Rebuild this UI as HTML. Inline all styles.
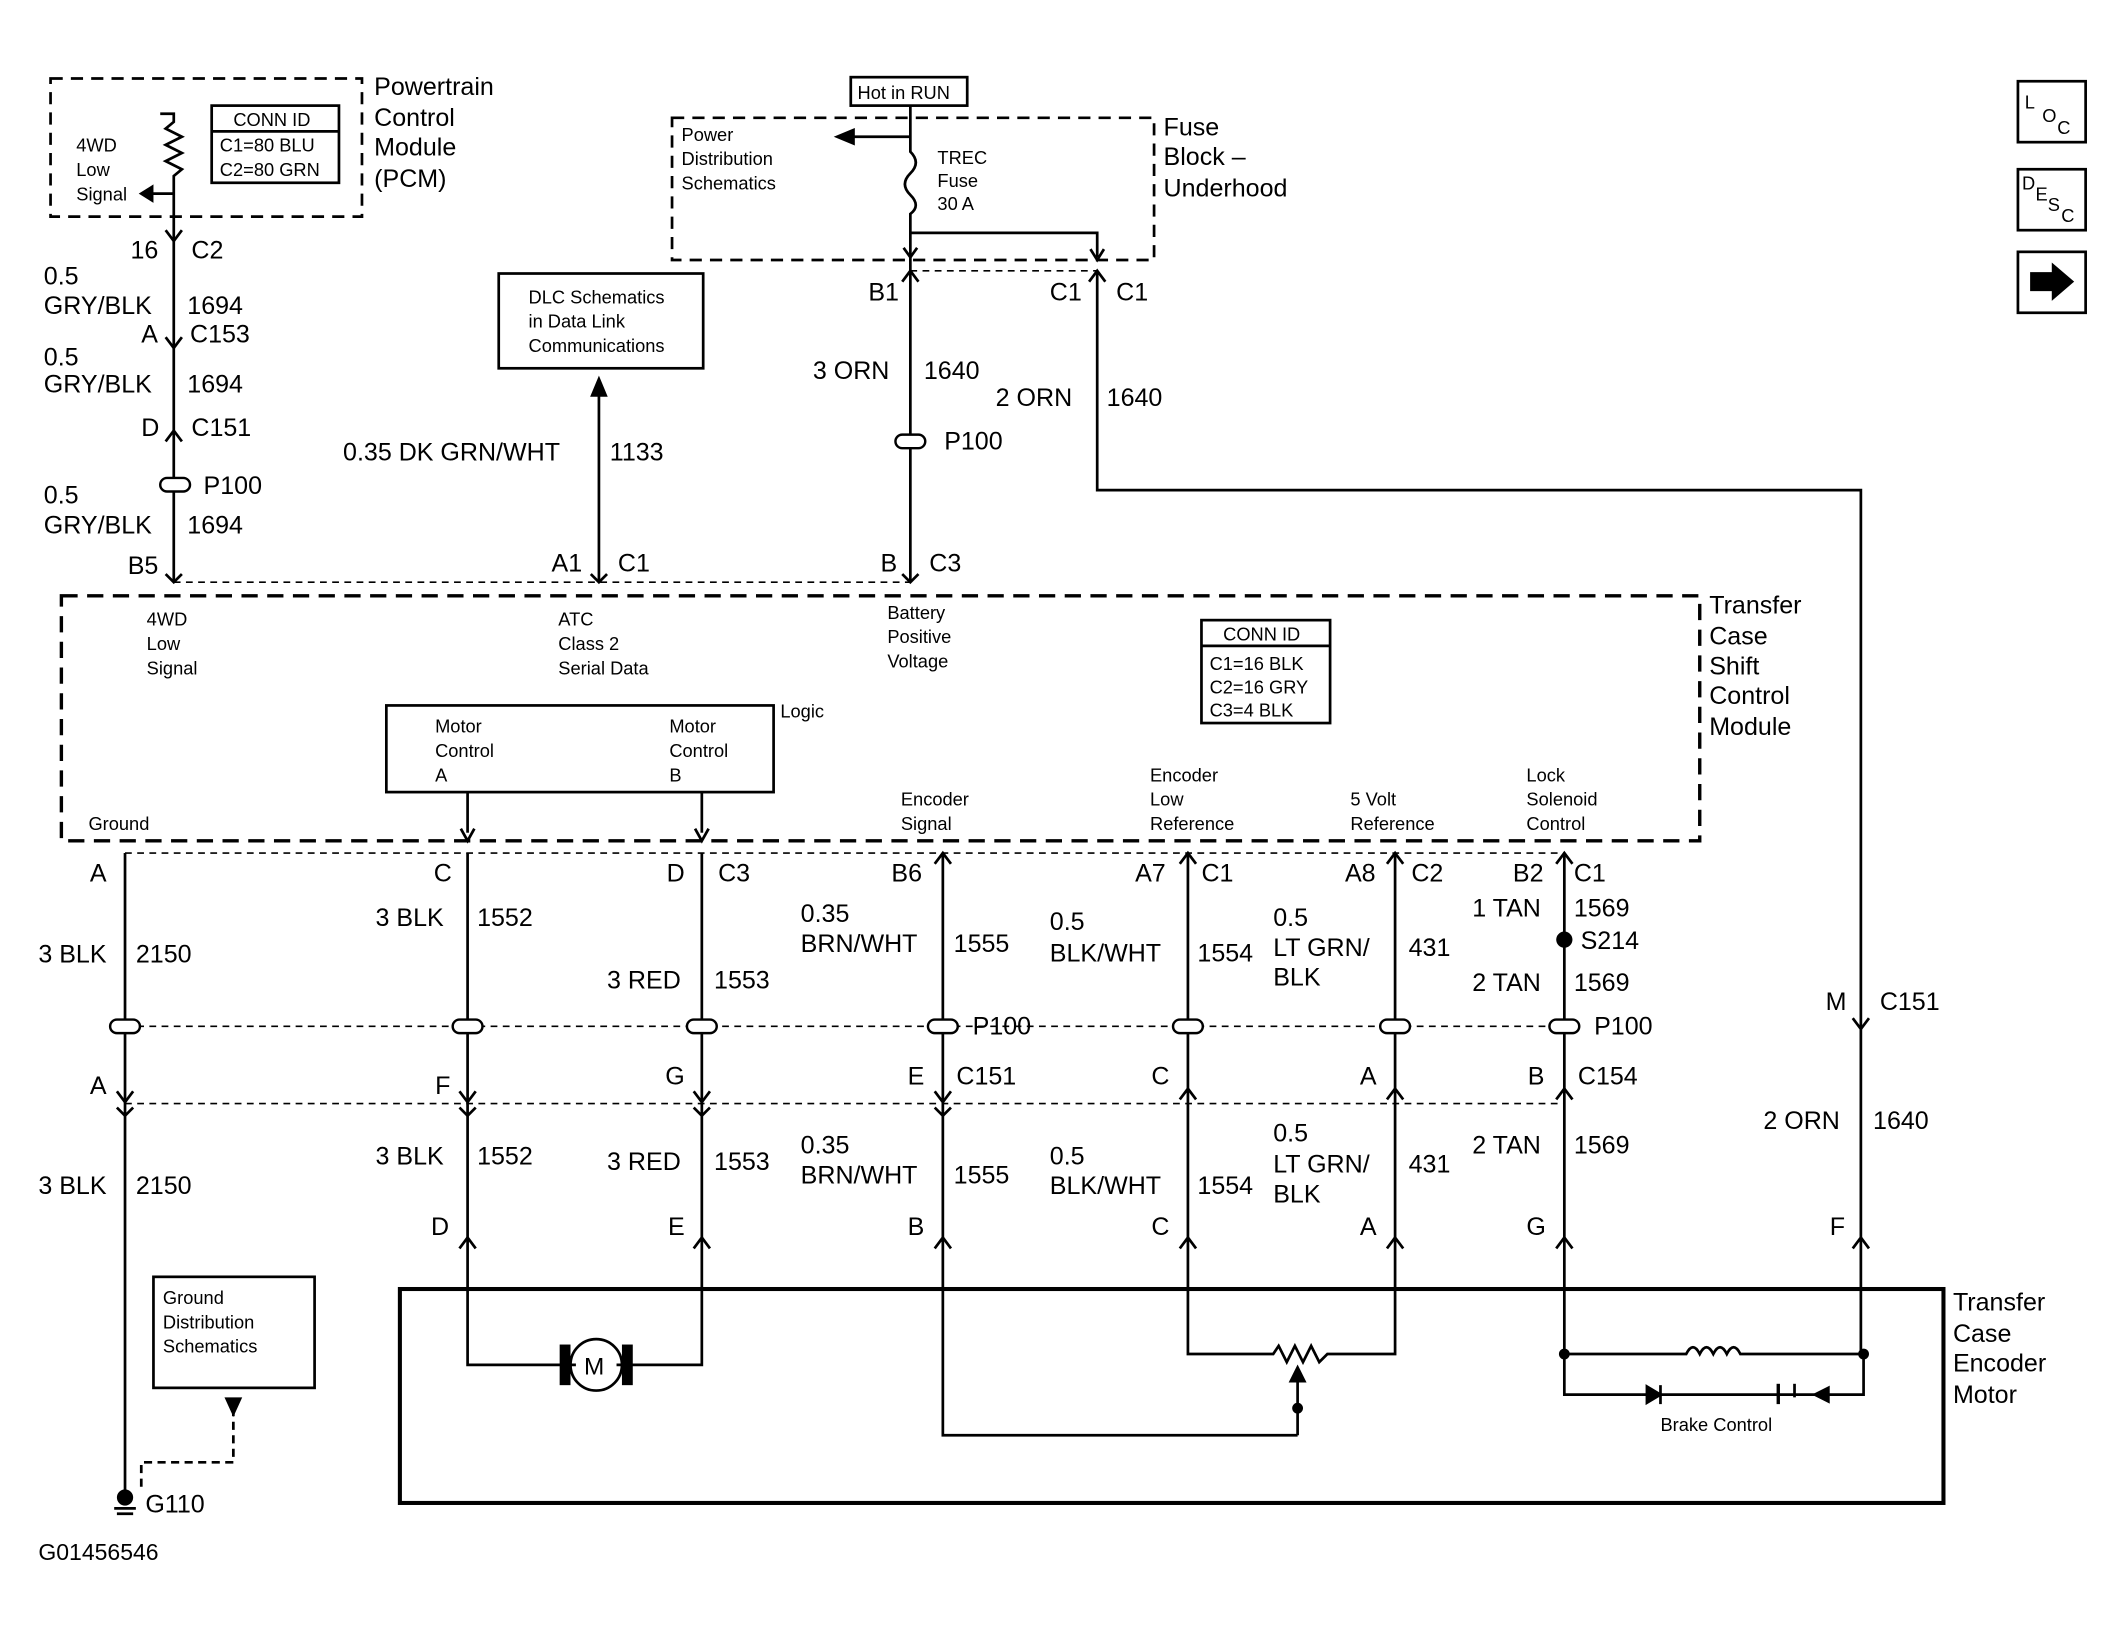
<!DOCTYPE html>
<html><head><meta charset="utf-8"><style>
html,body{margin:0;padding:0;background:#fff}
svg{display:block}
text{font-family:"Liberation Sans",sans-serif;fill:#000}
.b{font-size:18.5px}
.s{font-size:13.5px}
</style></head><body>
<svg width="2124" height="1637" viewBox="0 0 1568 1209" xmlns="http://www.w3.org/2000/svg">
<g fill="none" stroke="#000" stroke-width="2">
<rect x="37" y="58" width="230" height="102" stroke-dasharray="9,6"/>
<rect x="156" y="78" width="94" height="57"/><line x1="156" y1="97" x2="250" y2="97"/>
<path d="M118 84 H128 V90 L122 95 L134 101 L122 107 L134 113 L122 119 L134 125 L128 130 V430"/>
<path d="M128 143 H106"/><path d="M112 138 L104 143 L112 148Z" fill="#000"/>
<path d="M122 170 L128 178 L134 170"/>
<path d="M122 249 L128 257 L134 249"/>
<path d="M122 326 L128 318 L134 326"/>
<path d="M122 424 L128 430 L134 424"/>
<rect x="628" y="57" width="86" height="21"/>
<rect x="496" y="87" width="356" height="105" stroke-dasharray="9,6"/>
<path d="M672 78 V112 Q680 120 672 128 Q664 136 672 144 Q680 152 672 158 V430"/>
<path d="M672 101 H625"/><path d="M630 96 L618 101 L630 106Z" fill="#000"/>
<path d="M672 172 H810 V190"/><path d="M805 184 L810 192 L815 184"/>
<path d="M667 183 L672 190 L677 183"/>
<path d="M672 200 H810" stroke-dasharray="5,4" stroke-width="1.2"/>
<path d="M666 208 L672 200 L678 208"/><path d="M804 208 L810 200 L816 208"/>
<path d="M810 200 V362 H1374 V1000"/>
<path d="M666 424 L672 430 L678 424"/>
<rect x="368" y="202" width="151" height="70"/>
<path d="M442 430 V290"/><path d="M437 292 L442 280 L447 292Z" fill="#000"/>
<path d="M436 424 L442 430 L448 424"/>
<path d="M128 430 H672" stroke-dasharray="5,4" stroke-width="1.2"/>
<rect x="45" y="440" width="1210" height="181" stroke-dasharray="12,7" stroke-width="2.5"/>
<rect x="887" y="458" width="95" height="76"/><line x1="887" y1="477" x2="982" y2="477"/>
<rect x="285" y="521" width="286" height="64"/>
<path d="M345 585 V615"/><path d="M340 612 L345 621 L350 612"/>
<path d="M518 585 V615"/><path d="M513 612 L518 621 L523 612"/>
<path d="M92 630 H1155" stroke-dasharray="5,4" stroke-width="1.2"/>
<path d="M92 630 V1105 M345 630 V1008 H425 M455 1008 H518 V630 M696 630 V1060 H958 M877 630 V1000 H940 L944 994 L950 1006 L956 994 L962 1006 L968 994 L974 1006 L980 1000 H1030 V630 M1155 630 V1030 H1212"/>
<path d="M871 638 L877 630 L883 638 M1024 638 L1030 630 L1036 638 M1149 638 L1155 630 L1161 638 M690 638 L696 630 L702 638"/>
<path d="M92 758 H1155" stroke-dasharray="5,4" stroke-width="1.2"/>
<path d="M92 815 H1155" stroke-dasharray="5,4" stroke-width="1.2"/>
<path d="M86 806 L92 814 L98 806 M339 806 L345 814 L351 806 M512 806 L518 814 L524 806 M690 806 L696 814 L702 806 M871 812 L877 804 L883 812 M1024 812 L1030 804 L1036 812 M1149 812 L1155 804 L1161 812"/>
<path d="M86 818 L92 824 L98 818 M339 818 L345 824 L351 818 M512 818 L518 824 L524 818 M690 818 L696 824 L702 818"/>
<path d="M339 922 L345 914 L351 922 M512 922 L518 914 L524 922 M690 922 L696 914 L702 922 M871 922 L877 914 L883 922 M1024 922 L1030 914 L1036 922 M1149 922 L1155 914 L1161 922 M1368 922 L1374 914 L1380 922"/>
<path d="M1368 752 L1374 760 L1380 752"/>
<rect x="295" y="952" width="1140" height="158" stroke-width="3"/>
<circle cx="440" cy="1008" r="19"/>
<rect x="414" y="994" width="6" height="28" fill="#000"/><rect x="460" y="994" width="6" height="28" fill="#000"/>
<path d="M958 1060 V1018"/><path d="M953 1020 L958 1010 L963 1020Z" fill="#000"/>
<circle cx="958" cy="1040" r="3" fill="#000"/>
<path d="M1155 1000 H1245 Q1250 990 1255 1000 Q1260 990 1265 1000 Q1270 990 1275 1000 Q1280 990 1285 1000 H1376 V1030 H1345"/>
<path d="M1350 1025 L1340 1030 L1350 1035Z" fill="#000"/>
<path d="M1212 1030 H1340"/>
<path d="M1216 1024 L1226 1030 L1216 1036Z" fill="#000"/><path d="M1226 1023 V1037"/>
<path d="M1313 1022 V1037" stroke-width="2.5"/><path d="M1325 1022 V1032"/>
<circle cx="1155" cy="1000" r="3" fill="#000"/><circle cx="1376" cy="1000" r="3" fill="#000"/>
<circle cx="1155" cy="694" r="5" fill="#000"/>
<rect x="113" y="943" width="119" height="82"/>
<path d="M172 1040 V1080 H104 V1098" stroke-dasharray="6,4"/>
<path d="M167 1033 L172 1044 L177 1033Z" fill="#000"/>
<circle cx="92" cy="1106" r="5" fill="#000"/><path d="M84 1114 H100 M86 1118 H98"/>
<rect x="1490" y="60" width="50" height="45"/><rect x="1490" y="125" width="50" height="45"/><rect x="1490" y="186" width="50" height="45"/>
<path d="M1500 202 H1516 V196 L1530 208 L1516 220 V214 H1500Z" fill="#000"/>
</g>
<g fill="#fff" stroke="#000" stroke-width="1.8">
<rect x="118" y="353" width="22" height="10" rx="5"/><rect x="661" y="321" width="22" height="10" rx="5"/>
<rect x="81" y="753" width="22" height="10" rx="5"/><rect x="334" y="753" width="22" height="10" rx="5"/><rect x="507" y="753" width="22" height="10" rx="5"/><rect x="685" y="753" width="22" height="10" rx="5"/><rect x="866" y="753" width="22" height="10" rx="5"/><rect x="1019" y="753" width="22" height="10" rx="5"/><rect x="1144" y="753" width="22" height="10" rx="5"/>
</g>
<g class="b">
<text x="276" y="70">Powertrain</text><text x="276" y="93">Control</text><text x="276" y="115">Module</text><text x="276" y="138">(PCM)</text>
<text x="96" y="191">16</text><text x="141" y="191">C2</text>
<text x="32" y="210">0.5</text><text x="32" y="232">GRY/BLK</text><text x="138" y="232">1694</text>
<text x="104" y="253">A</text><text x="140" y="253">C153</text>
<text x="32" y="270">0.5</text><text x="32" y="290">GRY/BLK</text><text x="138" y="290">1694</text>
<text x="104" y="322">D</text><text x="141" y="322">C151</text>
<text x="150" y="365">P100</text>
<text x="32" y="372">0.5</text><text x="32" y="394">GRY/BLK</text><text x="138" y="394">1694</text>
<text x="94" y="424">B5</text>
<text x="859" y="100">Fuse</text><text x="859" y="122">Block –</text><text x="859" y="145">Underhood</text>
<text x="641" y="222">B1</text><text x="775" y="222">C1</text><text x="824" y="222">C1</text>
<text x="600" y="280">3 ORN</text><text x="682" y="280">1640</text>
<text x="735" y="300">2 ORN</text><text x="817" y="300">1640</text>
<text x="697" y="332">P100</text>
<text x="253" y="340">0.35 DK GRN/WHT</text><text x="450" y="340">1133</text>
<text x="407" y="422">A1</text><text x="456" y="422">C1</text>
<text x="650" y="422">B</text><text x="686" y="422">C3</text>
<text x="1262" y="453">Transfer</text><text x="1262" y="476">Case</text><text x="1262" y="498">Shift</text><text x="1262" y="520">Control</text><text x="1262" y="543">Module</text>
<text x="66" y="651">A</text><text x="320" y="651">C</text><text x="492" y="651">D</text><text x="530" y="651">C3</text><text x="658" y="651">B6</text><text x="838" y="651">A7</text><text x="887" y="651">C1</text><text x="993" y="651">A8</text><text x="1042" y="651">C2</text><text x="1117" y="651">B2</text><text x="1162" y="651">C1</text>
<text x="28" y="711">3 BLK</text><text x="100" y="711">2150</text>
<text x="277" y="684">3 BLK</text><text x="352" y="684">1552</text>
<text x="448" y="730">3 RED</text><text x="527" y="730">1553</text>
<text x="591" y="681">0.35</text><text x="591" y="703">BRN/WHT</text><text x="704" y="703">1555</text>
<text x="775" y="687">0.5</text><text x="775" y="710">BLK/WHT</text><text x="884" y="710">1554</text>
<text x="940" y="684">0.5</text><text x="940" y="706">LT GRN/</text><text x="940" y="728">BLK</text><text x="1040" y="706">431</text>
<text x="1087" y="677">1 TAN</text><text x="1162" y="677">1569</text><text x="1167" y="701">S214</text>
<text x="1087" y="732">2 TAN</text><text x="1162" y="732">1569</text>
<text x="718" y="764">P100</text><text x="1177" y="764">P100</text>
<text x="1348" y="746">M</text><text x="1388" y="746">C151</text>
<text x="66" y="808">A</text><text x="321" y="808">F</text><text x="491" y="801">G</text><text x="670" y="801">E</text><text x="706" y="801">C151</text><text x="850" y="801">C</text><text x="1004" y="801">A</text><text x="1128" y="801">B</text><text x="1165" y="801">C154</text>
<text x="28" y="882">3 BLK</text><text x="100" y="882">2150</text>
<text x="277" y="860">3 BLK</text><text x="352" y="860">1552</text>
<text x="448" y="864">3 RED</text><text x="527" y="864">1553</text>
<text x="591" y="852">0.35</text><text x="591" y="874">BRN/WHT</text><text x="704" y="874">1555</text>
<text x="775" y="860">0.5</text><text x="775" y="882">BLK/WHT</text><text x="884" y="882">1554</text>
<text x="940" y="843">0.5</text><text x="940" y="866">LT GRN/</text><text x="940" y="888">BLK</text><text x="1040" y="866">431</text>
<text x="1087" y="852">2 TAN</text><text x="1162" y="852">1569</text>
<text x="1302" y="834">2 ORN</text><text x="1383" y="834">1640</text>
<text x="318" y="912">D</text><text x="493" y="912">E</text><text x="670" y="912">B</text><text x="850" y="912">C</text><text x="1004" y="912">A</text><text x="1127" y="912">G</text><text x="1351" y="912">F</text>
<text x="1442" y="968">Transfer</text><text x="1442" y="991">Case</text><text x="1442" y="1013">Encoder</text><text x="1442" y="1036">Motor</text>
<text x="107" y="1117">G110</text>
<text x="431" y="1015" font-size="18">M</text>
</g>
<g class="s">
<text x="172" y="93">CONN ID</text><text x="162" y="112">C1=80 BLU</text><text x="162" y="130">C2=80 GRN</text>
<text x="56" y="112">4WD</text><text x="56" y="130">Low</text><text x="56" y="148">Signal</text>
<text x="633" y="73">Hot in RUN</text>
<text x="503" y="104">Power</text><text x="503" y="122">Distribution</text><text x="503" y="140">Schematics</text>
<text x="692" y="121">TREC</text><text x="692" y="138">Fuse</text><text x="692" y="155">30 A</text>
<text x="390" y="224">DLC Schematics</text><text x="390" y="242">in Data Link</text><text x="390" y="260">Communications</text>
<text x="108" y="462">4WD</text><text x="108" y="480">Low</text><text x="108" y="498">Signal</text>
<text x="412" y="462">ATC</text><text x="412" y="480">Class 2</text><text x="412" y="498">Serial Data</text>
<text x="655" y="457">Battery</text><text x="655" y="475">Positive</text><text x="655" y="493">Voltage</text>
<text x="903" y="473">CONN ID</text><text x="893" y="495">C1=16 BLK</text><text x="893" y="512">C2=16 GRY</text><text x="893" y="529">C3=4 BLK</text>
<text x="321" y="541">Motor</text><text x="321" y="559">Control</text><text x="321" y="577">A</text>
<text x="494" y="541">Motor</text><text x="494" y="559">Control</text><text x="494" y="577">B</text>
<text x="576" y="530">Logic</text>
<text x="65" y="613">Ground</text>
<text x="665" y="595">Encoder</text><text x="665" y="613">Signal</text>
<text x="849" y="577">Encoder</text><text x="849" y="595">Low</text><text x="849" y="613">Reference</text>
<text x="997" y="595">5 Volt</text><text x="997" y="613">Reference</text>
<text x="1127" y="577">Lock</text><text x="1127" y="595">Solenoid</text><text x="1127" y="613">Control</text>
<text x="1226" y="1057">Brake Control</text>
<text x="120" y="963">Ground</text><text x="120" y="981">Distribution</text><text x="120" y="999">Schematics</text>
<text x="28" y="1152" font-size="17">G01456546</text>
<text x="1495" y="80">L</text><text x="1508" y="90">O</text><text x="1519" y="99">C</text>
<text x="1493" y="140">D</text><text x="1503" y="148">E</text><text x="1512" y="156">S</text><text x="1522" y="164">C</text>
</g>
</svg>
</body></html>
